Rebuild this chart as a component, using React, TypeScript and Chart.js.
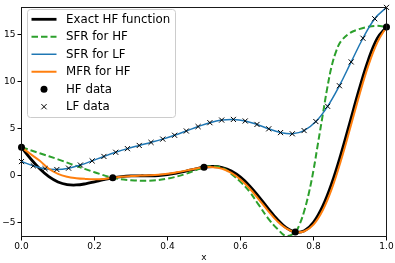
import React, { useEffect, useRef } from 'react';
import { Chart, registerables } from 'chart.js';

Chart.register(...registerables);

// ---------- data ----------
const exactX = [0, 0.025, 0.05, 0.075, 0.1, 0.125, 0.15, 0.175, 0.2, 0.225, 0.25, 0.275, 0.3, 0.325, 0.35, 0.375, 0.4, 0.425, 0.45, 0.475, 0.5, 0.525, 0.55, 0.575, 0.6, 0.625, 0.65, 0.675, 0.7, 0.725, 0.75, 0.775, 0.8, 0.825, 0.85, 0.875, 0.9, 0.925, 0.95, 0.975, 1];
const exactY = [3.027, 1.813, 0.738, -0.100, -0.657, -0.935, -0.978, -0.854, -0.640, -0.407, -0.210, -0.079, -0.016, -0.000, 0.002, 0.030, 0.115, 0.270, 0.483, 0.717, 0.909, 0.986, 0.871, 0.503, -0.150, -1.074, -2.209, -3.439, -4.606, -5.522, -5.993, -5.845, -4.950, -3.253, -0.799, 2.272, 5.712, 9.187, 12.303, 14.648, 15.830];

const sfrHfX = [0, 0.05, 0.1, 0.15, 0.2, 0.25, 0.3, 0.35, 0.4, 0.45, 0.5, 0.525, 0.55, 0.575, 0.6, 0.625, 0.65, 0.675, 0.7, 0.725, 0.75, 0.7625, 0.775, 0.7875, 0.8, 0.8125, 0.825, 0.8375, 0.85, 0.8625, 0.875, 0.9, 0.925, 0.95, 0.975, 1];
const sfrHfY = [3.03, 2.4, 1.75, 1.05, 0.38, -0.21, -0.47, -0.52, -0.3, 0.2, 0.91, 1.0, 0.85, 0.2, -0.65, -1.7, -3.1, -4.5, -5.6, -6.4, -5.99, -5.1, -3.7, -1.8, 0.6, 3.5, 6.4, 9.3, 11.7, 13.3, 14.3, 15.2, 15.6, 15.85, 15.95, 15.83];

const lfX = [0, 0.0323, 0.0645, 0.0968, 0.1290, 0.1613, 0.1935, 0.2258, 0.2581, 0.2903, 0.3226, 0.3548, 0.3871, 0.4194, 0.4516, 0.4839, 0.5161, 0.5484, 0.5806, 0.6129, 0.6452, 0.6774, 0.7097, 0.7419, 0.7742, 0.8065, 0.8387, 0.8710, 0.9032, 0.9355, 0.9677, 1];
const lfY = [1.514, 1.064, 0.755, 0.667, 0.812, 1.144, 1.586, 2.058, 2.501, 2.887, 3.226, 3.551, 3.902, 4.308, 4.765, 5.235, 5.650, 5.927, 5.997, 5.831, 5.463, 4.996, 4.596, 4.468, 4.812, 5.770, 7.390, 9.582, 12.115, 14.634, 16.712, 17.915];

const mfrX = [0, 0.025, 0.05, 0.075, 0.1, 0.125, 0.15, 0.175, 0.2, 0.225, 0.25, 0.275, 0.3, 0.325, 0.35, 0.375, 0.4, 0.425, 0.45, 0.475, 0.5, 0.525, 0.55, 0.575, 0.6, 0.625, 0.65, 0.675, 0.7, 0.725, 0.75, 0.775, 0.8, 0.825, 0.85, 0.875, 0.9, 0.925, 0.95, 0.975, 1];
const mfrY = [3.03, 2.3, 1.6, 0.75, 0.2, -0.1, -0.25, -0.33, -0.37, -0.33, -0.21, -0.1, -0.03, 0.02, 0.06, 0.12, 0.22, 0.37, 0.55, 0.75, 0.91, 0.92, 0.75, 0.3, -0.4, -1.35, -2.5, -3.7, -4.8, -5.6, -5.99, -5.9, -5.2, -3.7, -1.4, 1.6, 5.0, 8.5, 11.7, 14.2, 15.83];

const hfDataX = [0, 0.25, 0.5, 0.75, 1];
const hfDataY = [3.027, -0.210, 0.909, -5.993, 15.830];

const seriesNames = ['Exact HF function', 'SFR for HF', 'SFR for LF', 'MFR for HF', 'HF data', 'LF data'];
const xTicks = [0, 0.2, 0.4, 0.6, 0.8, 1.0];
const yTicks = [-5, 0, 5, 10, 15];
const xTitle = 'x';

// ---------- styles ----------
const FONT = '"DejaVu Sans", "Liberation Sans", sans-serif';
const C_BLACK = '#000000';
const C_GREEN = '#2ca02c';
const C_BLUE = '#1f77b4';
const C_ORANGE = '#ff7f0e';

const pts = (xs: number[], ys: number[]) => xs.map((x, i) => ({ x, y: ys[i] }));

const legendStyles = [
  { kind: 'line', color: C_BLACK, width: 2.8, dash: [] as number[] },
  { kind: 'line', color: C_GREEN, width: 2, dash: [6.5, 3] },
  { kind: 'line', color: C_BLUE, width: 1.5, dash: [] as number[] },
  { kind: 'line', color: C_ORANGE, width: 2, dash: [] as number[] },
  { kind: 'dot', color: C_BLACK, width: 0, dash: [] as number[] },
  { kind: 'cross', color: C_BLACK, width: 1, dash: [] as number[] },
];

const framePlugin = {
  id: 'mplFrame',
  afterDatasetsDraw(chart: any) {
    const { ctx, chartArea: a } = chart;
    const l = Math.floor(a.left) + 0.5;
    const r = Math.floor(a.right) + 0.5;
    const t = Math.floor(a.top) + 0.5;
    const b = Math.floor(a.bottom) + 0.5;
    ctx.save();
    ctx.strokeStyle = '#1a1a1a';
    ctx.lineWidth = 1;
    ctx.strokeRect(l, t, r - l, b - t);
    ctx.restore();
  },
};

const legendPlugin = {
  id: 'mplLegend',
  afterDraw(chart: any) {
    const ctx = chart.ctx as CanvasRenderingContext2D;
    ctx.save();
    const bx = 27.5, by = 9.5, bw = 148, bh = 108, rr = 3;
    ctx.beginPath();
    ctx.moveTo(bx + rr, by);
    ctx.lineTo(bx + bw - rr, by);
    ctx.quadraticCurveTo(bx + bw, by, bx + bw, by + rr);
    ctx.lineTo(bx + bw, by + bh - rr);
    ctx.quadraticCurveTo(bx + bw, by + bh, bx + bw - rr, by + bh);
    ctx.lineTo(bx + rr, by + bh);
    ctx.quadraticCurveTo(bx, by + bh, bx, by + bh - rr);
    ctx.lineTo(bx, by + rr);
    ctx.quadraticCurveTo(bx, by, bx + rr, by);
    ctx.closePath();
    ctx.fillStyle = 'rgba(255,255,255,0.8)';
    ctx.fill();
    ctx.strokeStyle = '#cccccc';
    ctx.lineWidth = 1;
    ctx.stroke();

    const x0 = 31.5, x1 = 56.5, mx = 44, tx = 66;
    seriesNames.forEach((name, i) => {
      const cy = 19.3 + i * 17.48;
      const st = legendStyles[i];
      ctx.setLineDash([]);
      if (st.kind === 'line') {
        ctx.beginPath();
        ctx.strokeStyle = st.color;
        ctx.lineWidth = st.width;
        ctx.setLineDash(st.dash);
        ctx.moveTo(x0, cy);
        ctx.lineTo(x1, cy);
        ctx.stroke();
        ctx.setLineDash([]);
      } else if (st.kind === 'dot') {
        ctx.beginPath();
        ctx.fillStyle = st.color;
        ctx.arc(mx, cy, 3.5, 0, Math.PI * 2);
        ctx.fill();
      } else {
        ctx.beginPath();
        ctx.strokeStyle = st.color;
        ctx.lineWidth = 1;
        const d = 2.6;
        ctx.moveTo(mx - d, cy - d); ctx.lineTo(mx + d, cy + d);
        ctx.moveTo(mx - d, cy + d); ctx.lineTo(mx + d, cy - d);
        ctx.stroke();
      }
      ctx.fillStyle = '#000';
      ctx.font = `11.8px ${FONT}`;
      ctx.textAlign = 'left';
      ctx.textBaseline = 'middle';
      ctx.fillText(name, tx, cy + 0.5);
    });
    ctx.restore();
  },
};

export default function App() {
  const ref = useRef<HTMLCanvasElement | null>(null);

  useEffect(() => {
    document.body.style.margin = '0';
    const canvas = ref.current;
    if (!canvas) return;
    const chart = new Chart(canvas, {
      type: 'line',
      data: {
        datasets: [
          {
            label: seriesNames[5],
            data: pts(lfX, lfY),
            showLine: false,
            pointStyle: 'crossRot',
            pointRadius: 3.6,
            pointBorderWidth: 1,
            pointBorderColor: C_BLACK,
            pointBackgroundColor: C_BLACK,
            order: 0,
            clip: false,
          } as any,
          {
            label: seriesNames[4],
            data: pts(hfDataX, hfDataY),
            showLine: false,
            pointStyle: 'circle',
            pointRadius: 3.5,
            pointBorderWidth: 0,
            pointBackgroundColor: C_BLACK,
            pointBorderColor: C_BLACK,
            order: 1,
            clip: false,
          } as any,
          {
            label: seriesNames[3],
            data: pts(mfrX, mfrY),
            borderColor: C_ORANGE,
            borderWidth: 2,
            pointRadius: 0,
            tension: 0.4,
            fill: false,
            order: 2,
          },
          {
            label: seriesNames[2],
            data: pts(lfX, lfY),
            borderColor: C_BLUE,
            borderWidth: 1.5,
            pointRadius: 0,
            tension: 0.4,
            fill: false,
            order: 3,
          },
          {
            label: seriesNames[1],
            data: pts(sfrHfX, sfrHfY),
            borderColor: C_GREEN,
            borderWidth: 2,
            borderDash: [6.5, 3],
            pointRadius: 0,
            tension: 0.4,
            fill: false,
            order: 4,
          },
          {
            label: seriesNames[0],
            data: pts(exactX, exactY),
            borderColor: C_BLACK,
            borderWidth: 2.8,
            pointRadius: 0,
            tension: 0.4,
            fill: false,
            order: 5,
          },
        ],
      },
      options: {
        responsive: false,
        animation: false,
        devicePixelRatio: 1,
        layout: { padding: { left: 0, right: 8.5, top: 4.5, bottom: 0 } },
        plugins: {
          legend: { display: false },
          tooltip: { enabled: false },
        },
        scales: {
          x: {
            type: 'linear',
            min: 0,
            max: 1,
            afterBuildTicks: (s: any) => { s.ticks = xTicks.map((v) => ({ value: v })); },
            afterFit: (s: any) => { s.height = 26.5; },
            ticks: {
              color: '#000',
              font: { family: FONT, size: 9 },
              padding: 1,
              maxRotation: 0,
              autoSkip: false,
              callback: (v: any) => Number(v).toFixed(1),
            },
            grid: { drawOnChartArea: false, drawTicks: true, tickLength: 4, color: '#000', lineWidth: 1 },
            border: { display: false },
            title: { display: true, text: xTitle, color: '#000', font: { family: FONT, size: 9 }, padding: { top: 0, bottom: 0 } },
          },
          y: {
            type: 'linear',
            min: -6.46,
            max: 17.915,
            afterBuildTicks: (s: any) => { s.ticks = yTicks.map((v) => ({ value: v })); },
            afterFit: (s: any) => { s.width = 21.5; },
            ticks: {
              color: '#000',
              font: { family: FONT, size: 9 },
              padding: 2,
              autoSkip: false,
              callback: (v: any) => String(v).replace('-', '\u2212'),
            },
            grid: { drawOnChartArea: false, drawTicks: true, tickLength: 4, color: '#000', lineWidth: 1 },
            border: { display: false },
          },
        },
      } as any,
      plugins: [framePlugin, legendPlugin],
    });
    return () => chart.destroy();
  }, []);

  return (
    <div style={{ position: 'fixed', left: 0, top: 0, width: 395, height: 263 }}>
      <canvas ref={ref} width={395} height={263} style={{ width: 395, height: 263, display: 'block' }} />
    </div>
  );
}
